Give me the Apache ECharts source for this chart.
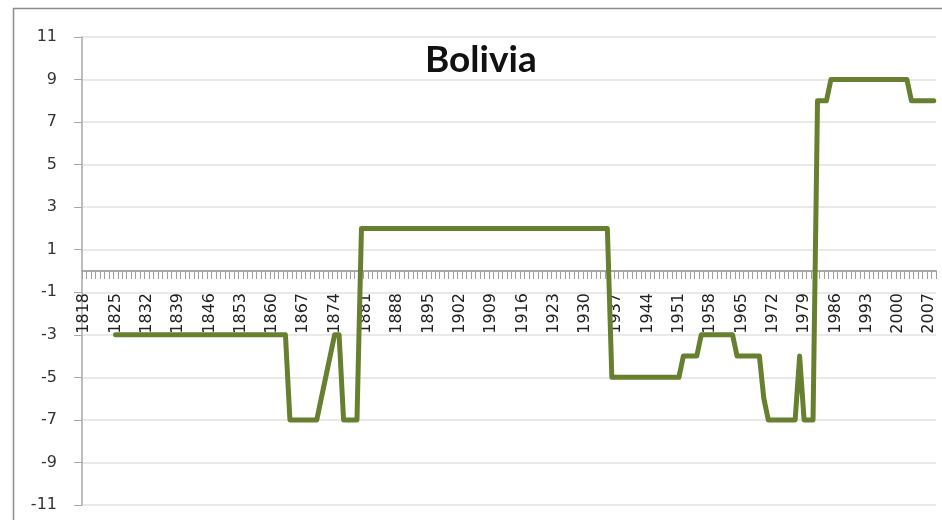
<!DOCTYPE html>
<html style="height: 100%">

<head>
    <meta charset="utf-8">
    <title>Bolivia</title>
    <script src="https://cdn.jsdelivr.net/npm/echarts@6/dist/echarts.min.js"></script>
</head>

<body style="height: 100%; margin: 0; background: #fff">
    <div id="container" style="width: 942px; height: 520px"></div>
    <script type="text/javascript">

        // x axis runs one category per year
        let firstYear = 1818;
        let lastYear = 2008;
        let years = [];
        for (let y = firstYear; y <= lastYear; y++) {
            years.push(String(y));
        }

        // polity score per year, 1818 .. 2008 (one row per decade)
        let polity = [
            null, null,                                         // 1818-1819
            null, null, null, null, null, -3, -3, -3, -3, -3,   // 1820s
            -3, -3, -3, -3, -3, -3, -3, -3, -3, -3,             // 1830s
            -3, -3, -3, -3, -3, -3, -3, -3, -3, -3,             // 1840s
            -3, -3, -3, -3, -3, -3, -3, -3, -3, -3,             // 1850s
            -3, -3, -3, -3, -7, -7, -7, -7, -7, -7,             // 1860s
            -7, -6, -5, -4, -3, -3, -7, -7, -7, -7,             // 1870s
            2, 2, 2, 2, 2, 2, 2, 2, 2, 2,                       // 1880s
            2, 2, 2, 2, 2, 2, 2, 2, 2, 2,                       // 1890s
            2, 2, 2, 2, 2, 2, 2, 2, 2, 2,                       // 1900s
            2, 2, 2, 2, 2, 2, 2, 2, 2, 2,                       // 1910s
            2, 2, 2, 2, 2, 2, 2, 2, 2, 2,                       // 1920s
            2, 2, 2, 2, 2, 2, -5, -5, -5, -5,                   // 1930s
            -5, -5, -5, -5, -5, -5, -5, -5, -5, -5,             // 1940s
            -5, -5, -4, -4, -4, -4, -3, -3, -3, -3,             // 1950s
            -3, -3, -3, -3, -4, -4, -4, -4, -4, -4,             // 1960s
            -6, -7, -7, -7, -7, -7, -7, -7, -4, -7,             // 1970s
            -7, -7, 8, 8, 8, 9, 9, 9, 9, 9,                     // 1980s
            9, 9, 9, 9, 9, 9, 9, 9, 9, 9,                       // 1990s
            9, 9, 9, 8, 8, 8, 8, 8, 8                           // 2000-2008
        ];

        let yMin = -11;
        let yMax = 11;
        let yStep = 2;

        let dom = document.getElementById("container");
        let chart = echarts.init(dom, null, { renderer: 'canvas' });

        let labelFont = {
            fontFamily: 'DejaVu Sans',
            fontSize: 16,
            color: '#222'
        };

        chart.setOption({
            animation: false,
            backgroundColor: '#fff',
            title: {
                text: 'Bolivia',
                left: 420,
                top: 37,
                textStyle: {
                    fontFamily: 'Lato',
                    fontWeight: 'bold',
                    fontSize: 37,
                    color: '#111'
                }
            },
            graphic: [
                {
                    type: 'rect',
                    shape: { x: 13.5, y: 8.5, width: 960, height: 540 },
                    style: { fill: 'none', stroke: '#8c8c8c', lineWidth: 1.5 },
                    silent: true
                }
            ],
            grid: {
                left: 82,
                right: 6,
                top: 37,
                bottom: 15,
                outerBoundsMode: 'none',
                containLabel: false
            },
            xAxis: [
                {
                    // the axis line at zero with a tick for every year
                    type: 'category',
                    data: years,
                    boundaryGap: true,
                    axisLine: {
                        onZero: true,
                        lineStyle: { color: '#a8a8a8', width: 2 }
                    },
                    axisTick: {
                        show: true,
                        interval: 0,
                        length: 8,
                        lineStyle: { color: '#a0a0a0', width: 1 }
                    },
                    axisLabel: { show: false },
                    splitLine: { show: false }
                },
                {
                    // year labels, pulled up under the zero line
                    type: 'category',
                    data: years,
                    position: 'bottom',
                    offset: -212,
                    boundaryGap: true,
                    axisLine: { show: false, onZero: false },
                    axisTick: { show: false },
                    axisLabel: Object.assign({
                        interval: 6,
                        rotate: 90,
                        margin: 0
                    }, labelFont),
                    splitLine: { show: false }
                }
            ],
            yAxis: {
                type: 'value',
                min: yMin,
                max: yMax,
                interval: yStep,
                axisLine: {
                    show: true,
                    lineStyle: { color: '#a8a8a8', width: 1.5 }
                },
                axisTick: {
                    show: true,
                    length: 8,
                    lineStyle: { color: '#a8a8a8' }
                },
                axisLabel: Object.assign({ margin: 25 }, labelFont, { color: '#333' }),
                splitLine: {
                    lineStyle: { color: '#e2e2e2', width: 1.5 }
                }
            },
            series: [
                {
                    name: 'Bolivia',
                    type: 'line',
                    data: polity,
                    showSymbol: false,
                    connectNulls: false,
                    lineStyle: {
                        color: '#66802f',
                        width: 5,
                        cap: 'round',
                        join: 'round'
                    },
                    itemStyle: { color: '#66802f' },
                    z: 3
                }
            ]
        });

    </script>
</body>

</html>
